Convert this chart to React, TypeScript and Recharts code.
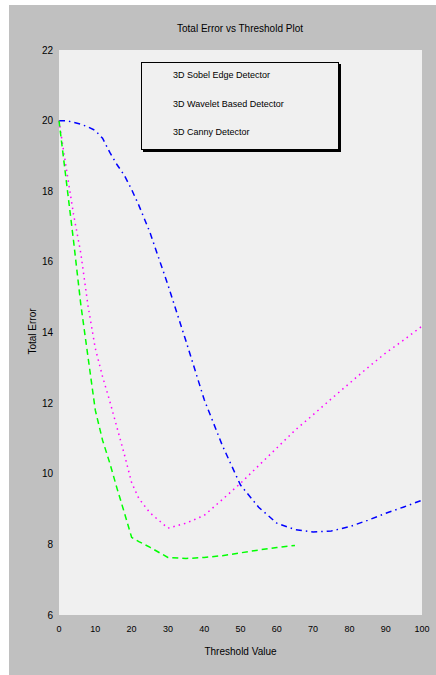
import { LineChart, Line, XAxis, YAxis, ReferenceArea } from 'recharts'

// threshold values sampled along the x axis
const thresholds = [0, 2, 4, 6, 8, 10, 12, 14, 16, 18, 20, 22, 25, 30, 35, 40, 45, 50, 55, 60, 65, 70, 75, 80, 85, 90, 95, 100]

const sobel = [20.0, 20.0, 19.95, 19.9, 19.82, 19.72, 19.5, 19.1, 18.75, 18.45, 18.05, 17.6, 16.85, 15.35, 13.75, 12.1, 10.8, 9.68, 9.05, 8.6, 8.42, 8.35, 8.38, 8.5, 8.68, 8.88, 9.06, 9.25]
const wavelet = [20.0, 18.65, 17.35, 16.25, 14.75, 13.55, 12.75, 12.05, 11.3, 10.55, 9.75, 9.3, 8.9, 8.46, 8.6, 8.82, 9.27, 9.73, 10.23, 10.73, 11.23, 11.67, 12.12, 12.56, 13.0, 13.42, 13.79, 14.18]
const canny: (number | null)[] = [20.0, 18.3, 16.6, 14.8, 13.3, 11.8, 10.95, 10.3, 9.58, 8.9, 8.2, 8.08, 7.92, 7.63, 7.6, 7.63, 7.68, 7.76, 7.84, 7.91, 7.97, null, null, null, null, null, null, null]

const xTicks = [0, 10, 20, 30, 40, 50, 60, 70, 80, 90, 100]
const yTicks = [6, 8, 10, 12, 14, 16, 18, 20, 22]

const legendNames = ['3D Sobel Edge Detector', '3D Wavelet Based Detector', '3D Canny Detector']

const data = thresholds.map((t, i) => ({
    t,
    sobel: sobel[i],
    wavelet: wavelet[i],
    canny: canny[i],
}))

const font = 'Arial, "Liberation Sans", sans-serif'

export default function App() {
    return (
        <div style={{ position: 'absolute', left: 9, top: 5, width: 427, height: 670, background: '#c0c0c0', fontFamily: font }}>
            <LineChart width={427} height={670} data={data} margin={{ top: 45, right: 14, left: 10, bottom: 30 }}>
                <ReferenceArea x1={0} x2={100} y1={6} y2={22} fill="#f0f0f0" fillOpacity={1} stroke="none" />
                <XAxis
                    dataKey="t"
                    type="number"
                    domain={[0, 100]}
                    ticks={xTicks}
                    height={30}
                    axisLine={false}
                    tickLine={false}
                    tickSize={0}
                    tickMargin={11}
                    tick={{ fontSize: 9, fill: '#000', fontFamily: font }}
                />
                <YAxis
                    type="number"
                    domain={[6, 22]}
                    ticks={yTicks}
                    width={40}
                    axisLine={false}
                    tickLine={false}
                    tickSize={0}
                    tickMargin={6}
                    tick={{ fontSize: 10, fill: '#000', fontFamily: font }}
                />
                <Line dataKey="sobel" stroke="#0000ff" strokeWidth={1.5} strokeDasharray="6 4 1.5 4" dot={false} isAnimationActive={false} />
                <Line dataKey="wavelet" stroke="#ff00ff" strokeWidth={1.5} strokeDasharray="1.5 4" dot={false} isAnimationActive={false} />
                <Line dataKey="canny" stroke="#00ff00" strokeWidth={1.5} strokeDasharray="6 4" dot={false} isAnimationActive={false} connectNulls={false} />
            </LineChart>

            <div style={{ position: 'absolute', left: 0, width: 462, top: 18, textAlign: 'center', fontSize: 10, color: '#000' }}>
                Total Error vs Threshold Plot
            </div>
            <div style={{ position: 'absolute', left: 50, width: 363, top: 641, textAlign: 'center', fontSize: 10, color: '#000' }}>
                Threshold Value
            </div>
            <div style={{ position: 'absolute', left: 23, top: 327, width: 0, height: 0 }}>
                <div style={{ position: 'absolute', width: 120, left: -60, top: -6, textAlign: 'center', fontSize: 10, color: '#000', transform: 'rotate(-90deg)' }}>
                    Total Error
                </div>
            </div>

            <div
                style={{
                    position: 'absolute',
                    left: 132,
                    top: 57,
                    width: 196,
                    height: 86,
                    background: '#f0f0f0',
                    border: '1px solid #000',
                    boxShadow: '2px 2px 0 #000',
                    fontSize: 9,
                    color: '#000',
                }}
            >
                {legendNames.map((n, i) => (
                    <div key={n} style={{ position: 'absolute', left: 31, top: 7 + i * 28.5, whiteSpace: 'nowrap' }}>
                        {n}
                    </div>
                ))}
            </div>
        </div>
    )
}
